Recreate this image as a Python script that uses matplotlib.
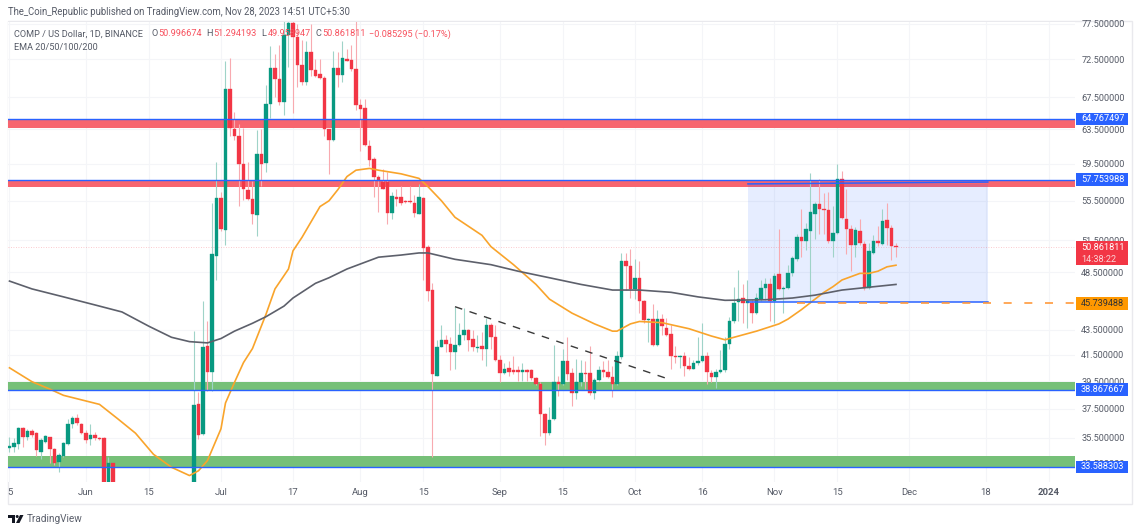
import numpy as np
import matplotlib
matplotlib.use("Agg")
import matplotlib.pyplot as plt
from matplotlib.patches import Rectangle, Polygon, Circle
from matplotlib.transforms import IdentityTransform

# ---------- data ----------
days = list(range(-17, 9)) + list(range(24, 181))   # days since 1 Jun 2023

opens = [34.84,34.91,35.09,36.12,35.57,35.94,35.79,34.56,35.24,35.53,34.76,33.88,34.29,35.09,36.45,36.82,36.41,35.83,35.39,35.68,35.46,35.46,30,33.81,31,31.5,
 32.0,37.8,35.75,42.2,40.2,50.0,55.8,52.5,68.5,63.6,62.7,59.5,56.6,55.7,54.0,60.6,59.6,66.6,71.3,69.8,66.9,75.9,77.6,75.6,71.7,69.4,73.5,71.1,70.5,70.0,63.5,62.3,71.3,70.4,72.5,72.4,71.2,66.5,66.1,61.6,60.0,58.1,
 57.5,57.5,54.2,55.9,55.9,55.5,55.5,55.3,54.1,55.8,50.9,46.9,39.9,42.1,42.7,42.4,41.7,42.3,43.1,43.5,42.8,42.05,42.2,42.0,43.9,42.9,41.1,40.1,40.5,40.3,40.3,40.2,40.3,40.3,39.7,39.3,37.1,35.8,36.8,39.4,39.3,41.0,40.1,38.6,39.4,40.1,40.1,38.6,39.6,40.3,40.2,39.8,39.3,41.3,
 49.5,49.1,47.0,48.0,45.9,44.3,44.4,42.3,44.4,43.7,43.2,41.4,41.3,41.4,40.6,40.4,40.9,41.0,41.4,40.1,39.8,40.2,40.3,42.4,44.2,45.85,46.2,45.8,45.8,44.9,46.1,47.1,47.4,45.9,48.3,47.0,47.1,48.4,49.7,51.8,51.4,52.4,54.1,55.2,54.6,54.5,51.4,52.2,57.8,53.6,52.6,51.1,52.4,51.2,47.1,50.3,51.4,51.2,53.5,52.7,50.996674]
highs = [35.57,35.46,36.23,36.23,36.05,36.05,35.90,35.46,35.68,35.57,34.80,34.51,35.24,36.78,37.00,37.15,36.49,36.01,36.41,35.90,35.55,35.57,34.25,33.85,32.68,32.68,
 43.4,38.7,45.9,44.2,55.3,59.7,56.4,72.3,72.7,65.6,64.2,63.7,59.7,57.6,63.4,63.5,69.0,74.3,73.2,74.5,80,80,80,77.5,75.2,75.0,77.5,72.5,72.5,70.3,63.5,73.6,73.5,75.0,73.9,74.5,78.5,67.2,67.3,62.3,60.3,58.3,
 58.9,58.6,56.4,56.7,57.1,55.6,57.1,56.1,57.3,55.9,51.1,47.5,42.7,43.9,43.1,42.9,45.4,44.1,45.3,43.6,43.5,43.1,43.3,44.5,44.1,43.9,41.5,40.9,41.0,41.4,40.6,40.9,40.4,40.4,39.8,39.4,37.2,37.6,42.3,39.9,42.0,42.9,40.5,41.2,41.1,41.0,42.2,39.7,40.6,41.0,41.1,40.6,41.8,50.3,
 50.3,50.7,49.7,49.5,46.0,44.5,45.7,45.2,44.8,44.5,43.9,42.2,41.5,41.7,41.3,41.1,42.9,44.1,41.7,40.3,40.4,41.9,42.9,44.6,47.2,48.7,47.4,47.8,46.1,46.6,47.8,48.0,48.0,48.4,52.6,47.3,49.2,50.0,52.1,54.6,53.2,58.5,55.4,57.8,56.3,56.4,55.0,59.5,58.7,56.7,53.0,52.8,53.6,51.4,51.3,52.0,52.9,54.6,55.3,53.0,51.294193]
lows = [34.58,34.58,34.73,34.91,35.35,35.57,34.29,34.07,35.13,33.81,33.70,33.26,34.25,35.02,36.12,36.34,35.75,35.13,35.02,35.35,35.35,29.5,29.8,29.5,30.5,30.8,
 31.5,35.4,35.7,38.8,38.8,47.8,52.4,51.1,62.7,62.3,55.0,55.6,55.6,53.1,51.9,57.1,58.6,64.9,67.5,66.5,65.3,71.5,65.5,68.8,69.1,69.0,70.3,70.1,69.8,62.7,58.4,62.1,68.8,69.5,72.2,70.9,65.9,61.0,61.5,59.3,55.9,54.3,
 56.7,53.1,53.6,55.0,55.1,55.3,55.3,53.8,54.1,47.8,45.9,34.2,39.9,42.1,41.7,40.3,40.4,42.2,42.7,41.8,41.8,41.7,41.1,40.6,42.0,41.0,39.4,40.0,39.9,40.0,39.5,39.5,39.5,39.6,39.2,35.6,35.0,35.7,36.7,38.4,39.2,39.6,37.7,38.2,39.1,38.9,38.5,38.2,39.5,39.8,39.75,38.3,39.2,41.2,
 46.9,46.2,46.1,44.9,44.1,42.5,42.2,42.2,43.1,43.0,40.4,40.9,40.5,39.9,40.3,40.4,40.7,40.95,39.3,39.4,39.0,40.1,40.2,42.0,44.1,44.2,44.1,43.7,44.1,44.8,45.9,46.0,44.2,44.1,46.9,44.9,47.0,48.2,49.5,49.9,50.6,45.8,51.6,52.1,52.1,51.3,49.9,52.1,53.6,50.2,48.6,49.9,51.1,46.9,47.0,50.2,51.0,51.1,51.1,49.6,49.958947]
closes = [34.95,35.13,36.12,35.57,35.97,35.68,34.65,35.31,35.61,34.73,33.85,34.36,35.17,36.45,36.85,36.49,35.83,35.35,35.68,35.46,35.42,30,33.81,30,31.5,31.2,
 37.75,35.7,42.1,40.2,50.2,55.8,52.6,68.5,63.7,62.7,59.5,56.7,55.7,54.1,60.6,59.5,66.6,71.3,69.8,66.9,75.9,77.6,75.6,71.7,69.4,73.5,71.1,70.3,70.0,63.5,62.3,71.3,70.4,72.6,72.3,71.2,66.5,66.0,61.7,59.9,58.0,57.6,
 56.7,54.2,56.0,55.7,55.3,55.4,55.4,54.2,55.9,50.8,46.8,40.0,42.1,42.7,42.4,41.7,42.3,43.1,43.5,42.7,42.1,42.15,42.0,43.9,42.9,41.1,40.1,40.4,40.2,40.2,40.15,40.3,40.2,39.7,39.3,37.1,35.8,36.7,39.4,39.3,41.0,40.0,38.6,39.4,40.1,40.0,38.6,39.6,40.3,40.2,39.8,39.3,41.4,49.5,
 49.1,47.0,48.0,45.9,44.3,44.4,42.3,44.4,43.8,43.1,41.4,41.3,41.4,40.6,40.4,40.9,41.0,41.4,40.2,39.8,40.2,40.3,42.4,44.2,45.8,46.1,45.8,45.9,44.9,46.2,47.1,47.4,45.9,48.2,47.0,47.1,48.4,49.8,51.8,51.4,52.6,54.3,55.2,54.6,54.5,51.4,52.2,57.8,53.7,52.6,51.1,52.5,51.3,47.1,50.5,51.4,51.3,53.4,52.7,51.0,50.861811]

ema50_days = [-17,-12,-8,-5,3,7,11,15,19,23,25,27,30,31,33,35,37,40,42,45,46,48,52,54,56,58,60,63,65,70,74,76,79,82,88,90,95,100,103,108,113,117,118,121,123,128,134,139,142,144,149,154,156,159,162,164,166,168,172,174,176,178,180]
ema50 = [40.5,39.45,38.9,38.45,37.8,36.8,35.8,34.4,33.57,33.05,33.35,34.0,36.1,37.9,39.4,40.9,42.0,44.8,47.0,48.8,50.5,51.8,54.9,55.5,56.7,58.1,58.8,59.0,58.8,58.4,57.9,57.0,55.5,53.8,52.0,50.9,49.2,47.4,46.1,44.9,44.0,43.4,43.4,44.0,44.2,44.1,43.6,43.0,42.7,42.9,43.4,44.0,44.4,45.2,46.1,46.7,47.2,47.8,48.4,48.4,48.6,49.0,49.15]
ema200_days = [-17,-12,-5,2,8,14,19,23,27,30,33,37,40,44,46,51,54,58,65,70,74,76,82,90,96,103,110,117,123,130,136,142,151,157,162,168,174,180]
ema200 = [47.7,47.0,46.3,45.6,45.0,43.8,42.9,42.55,42.45,42.8,43.4,44.05,44.6,45.5,46.2,47.5,48.0,48.8,49.9,50.1,50.3,50.3,49.7,49.2,48.6,48.0,47.4,46.9,46.9,46.7,46.3,46.0,46.05,46.2,46.45,46.9,47.15,47.4]

x_tick_days = [-17,0,14,30,46,61,75,92,106,122,137,153,167,183,200,214]
x_tick_labels = ["5","Jun","15","Jul","17","Aug","15","Sep","15","Oct","16","Nov","15","Dec","18","2024"]
y_ticks = [77.5,72.5,67.5,63.5,59.5,55.5,51.5,48.5,43.5,41.5,39.5,37.5,35.5,33.8]
y_tick_labels = ["77.500000","72.500000","67.500000","63.500000","59.500000","55.500000","51.500000","48.500000","43.500000","41.500000","39.500000","37.500000","35.500000","33.500000"]

red_zones = [(63.7, 64.767497), (56.95, 57.753988)]
green_zones = [(38.867667, 39.4), (33.588303, 34.3)]
last_price = 50.861811
stop_level = 45.739488
box_days = (147.1, 200.4)
box_top = (57.3, 57.5)
box_bottom = 45.87
trend_days = [82, 129]
trend_prices = [45.45, 39.7]

GREEN, RED, BLUE, ORANGE = "#089981", "#f23645", "#2962ff", "#ff9800"
TXT = "#555a66"
plt.rcParams["font.family"] = ["Roboto", "DejaVu Sans"]
W, H = 1140, 532
fig = plt.figure(figsize=(W / 100, H / 100), dpi=100, facecolor="white")
ax = fig.add_axes([8 / W, (H - 482) / H, 1067 / W, 460 / H])

ax.set_yscale("log")
ax.set_ylim(32.65, 77.77)
ax.set_xlim(-17.33, 219.78)
for s in ax.spines.values():
    s.set_visible(False)

# grid and ticks
ax.set_xticks(x_tick_days)
ax.set_xticklabels(x_tick_labels, fontsize=6.8, color=TXT)
ax.get_xticklabels()[-1].set_fontweight("bold")
ax.set_yticks(y_ticks)
ax.set_yticklabels(y_tick_labels, fontsize=6.6, color=TXT)
ax.minorticks_off()
ax.yaxis.set_minor_locator(matplotlib.ticker.NullLocator())
ax.yaxis.tick_right()
ax.tick_params(axis="both", length=0)
ax.tick_params(axis="y", pad=4.5)
ax.tick_params(axis="x", pad=4.5)
ax.grid(True, color="#f4f5f8", lw=0.8, zorder=0)
ax.set_axisbelow(True)

# zones
for lo, hi in red_zones:
    ax.axhspan(lo, hi, color="#f7656f", lw=0, zorder=1)
    ax.axhline(hi, color=BLUE, lw=1.0, zorder=6)
for lo, hi in green_zones:
    ax.axhspan(lo, hi, color="#76c078", lw=0, zorder=1)
    ax.axhline(lo, color=BLUE, lw=1.0, zorder=6)

# position box
ax.add_patch(Rectangle((box_days[0], box_bottom), box_days[1] - box_days[0], box_top[0] - box_bottom,
                       fc=BLUE, alpha=0.115, lw=0, zorder=1.5))
ax.plot(box_days, box_top, color=BLUE, lw=1.1, zorder=6)
ax.plot(box_days, [box_bottom, box_bottom], color=BLUE, lw=1.1, zorder=6)

# price lines
ax.axhline(last_price, color="#f23645", alpha=0.35, lw=0.6, ls=(0, (1, 2)), zorder=1.6)
ax.plot([158, 219.78], [stop_level, stop_level], color="#ff9a3c", lw=1.2, ls=(0, (4.8, 7.6)), zorder=6.5)

# candles
o, h, l, c = map(np.array, (opens, highs, lows, closes))
d = np.array(days)
up = c >= o
ax.vlines(d[up], l[up], h[up], color="#9fd3c8", lw=0.8, zorder=3)
ax.vlines(d[~up], l[~up], h[~up], color="#f8aab0", lw=0.8, zorder=3)
ax.bar(d, np.abs(c - o), bottom=np.minimum(o, c), width=0.72,
       color=np.where(up, GREEN, RED), edgecolor=np.where(up, GREEN, RED), lw=0.25, zorder=4)

# EMAs and trend line
ax.plot(ema50_days, ema50, color="#f9a42b", lw=1.2, zorder=5)
ax.plot(ema200_days, ema200, color="#5d606b", lw=1.2, zorder=5)
ax.plot(trend_days, trend_prices, color="#3a3a3a", lw=1.0, ls=(0, (5.5, 5.5)), zorder=5)

fig.canvas.draw()
ID = IdentityTransform()


def py(v):
    return H - v


def label(x, y, s, color=TXT, size=6.6, ha="left", weight="normal", zorder=20):
    fig.text(x / W, (H - y) / H, s, color=color, fontsize=size, ha=ha, va="center",
             fontweight=weight, zorder=zorder)


# outer frame
fig.add_artist(Rectangle((8, py(504)), 1124, 483, fill=False, ec="#e9e9ed", lw=1, transform=ID, zorder=-1))

# header texts
label(8, 12, "The_Coin_Republic published on TradingView.com, Nov 28, 2023 14:51 UTC+5:30", size=6.85)
label(14, 34, "COMP / US Dollar, 1D, BINANCE", size=6.6)
label(14, 47, "EMA 20/50/100/200", size=6.6)
VAL = "#f7525f"
for x, k, v in [(151, "O", "50.996674"), (206, "H", "51.294193"), (261, "L", "49.958947"), (315, "C", "50.861811")]:
    label(x, 34, k, size=6.6)
    label(x + 7, 34, v, color=VAL, size=6.6)
label(369, 34, "\u22120.085295 (\u22120.17%)", color=VAL, size=6.6)


# price tags
def tag(price, text, fc, tc="white", cy=None, h=12.5):
    yd = ax.transData.transform((0, price))[1]
    if cy is not None:
        yd = py(cy)
    fig.add_artist(Rectangle((1075.5, yd - h / 2), 52.5, h, fc=fc, ec="none", transform=ID, zorder=15))
    fig.text(1081 / W, yd / H, text, color=tc, fontsize=6.6, va="center", ha="left", zorder=16)


tag(64.767497, "64.767497", BLUE)
tag(57.753988, "57.753988", BLUE)
tag(stop_level, "45.739488", ORANGE, tc="#333333")
tag(38.867667, "38.867667", BLUE)
tag(33.588303, "33.588303", BLUE)
fig.add_artist(Rectangle((1075.5, py(265)), 52.5, 24.3, fc=RED, ec="none", transform=ID, zorder=15))
label(1081, 247, "50.861811", color="white", zorder=16)
label(1081, 259, "14:38:22", color="#fbd5d8", zorder=16)

# TradingView logo
fig.add_artist(Polygon([(8, py(515)), (15, py(515)), (15, py(523)), (12, py(523)), (12, py(518)), (8, py(518))],
                       fc="#131722", ec="none", transform=ID))
fig.add_artist(Circle((17.2, py(516.5)), 1.5, fc="#131722", ec="none", transform=ID))
fig.add_artist(Polygon([(20, py(515)), (23.5, py(515)), (19.5, py(523)), (16, py(523))],
                       fc="#131722", ec="none", transform=ID))
label(27, 518.5, "TradingView", size=7.2, color="#5a5f6b")

fig.savefig("out.png", dpi=100, facecolor="white")
